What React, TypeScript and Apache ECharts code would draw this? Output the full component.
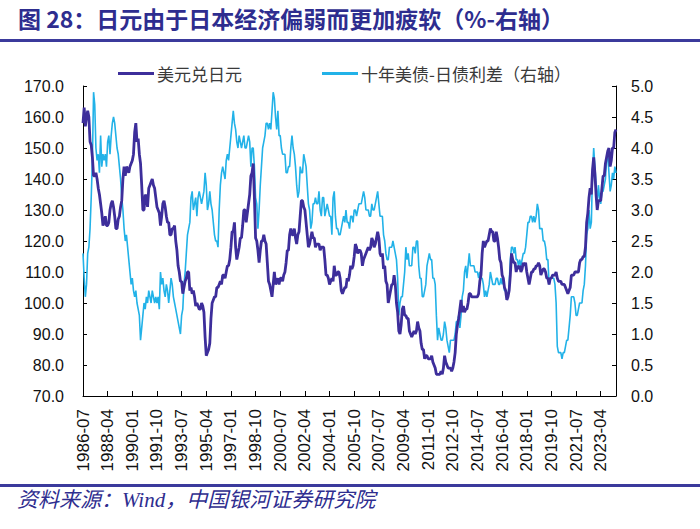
import React, { useEffect, useRef } from "react";
import * as echarts from "echarts";

// 美元兑日元, monthly, 1986-07 .. 2024-05
const usdJpy: number[] = [
  158, 163, 157, 160, 162, 160, // 1986 H2
  152, 151, 147, 141, 141, 142, 140, 137, 135, 132, 129, 125, // 1987
  126, 128, 125, 125, 126, 130, 132, 133, 131, 128, 124, 124, // 1988
  127, 128, 131, 133, 140, 144, 141, 144, 143, 142, 144, 145, // 1989
  146, 148, 155, 158, 152, 153, 148, 145, 138, 130, 130, 135, // 1990
  134, 131, 137, 138, 139, 140, 138, 137, 134, 131, 130, 129, // 1991
  125, 128, 132, 133, 131, 128, 126, 126, 122, 122, 124, 124, // 1992
  125, 120, 117, 112, 110, 107, 107, 103, 105, 107, 108, 110, // 1993
  110, 104, 105, 103, 104, 102, 99, 100, 99, 98, 98, 100, // 1994
  99, 97, 89, 83, 84, 85, 87, 95, 100, 101, 102, 102, // 1995
  105, 105, 106, 107, 106, 109, 109, 108, 110, 112, 112, 114, // 1996
  118, 123, 123, 126, 118, 114, 116, 118, 121, 121, 125, 130, // 1997
  130, 126, 129, 132, 135, 141, 142, 145, 134, 121, 120, 117, // 1998
  113, 117, 120, 120, 122, 120, 119, 113, 107, 106, 104, 102, // 1999
  106, 110, 106, 107, 108, 106, 108, 108, 107, 109, 110, 113, // 2000
  117, 117, 122, 124, 122, 122, 124, 121, 119, 122, 123, 128, // 2001
  133, 133, 131, 130, 126, 122, 118, 119, 121, 123, 121, 121, // 2002
  118, 119, 119, 119, 117, 118, 118, 118, 114, 109, 109, 108, // 2003
  106, 107, 108, 107, 112, 109, 109, 110, 110, 108, 104, 103, // 2004
  104, 105, 105, 108, 107, 109, 112, 111, 112, 115, 119, 118, // 2005
  116, 117, 117, 116, 112, 114, 115, 116, 117, 118, 117, 118, // 2006
  121, 120, 118, 119, 121, 123, 121, 116, 115, 116, 111, 112, // 2007
  107, 106, 100, 102, 104, 106, 106, 109, 106, 100, 97, 91, // 2008
  90, 93, 98, 99, 96, 96, 95, 95, 91, 90, 89, 90, // 2009
  91, 90, 91, 94, 92, 91, 87, 85, 85, 82, 83, 83, // 2010
  82, 82, 82, 83, 81, 80, 79, 77, 77, 77, 77, 78, // 2011
  77, 79, 83, 81, 80, 79, 79, 79, 78, 79, 81, 84, // 2012
  90, 93, 95, 98, 101, 97, 99, 97, 98, 98, 100, 103, // 2013
  103, 102, 102, 102, 102, 102, 102, 103, 107, 109, 116, 120, // 2014
  118, 119, 120, 120, 122, 124, 123, 123, 120, 120, 123, 121, // 2015
  118, 114, 113, 109, 108, 105, 104, 101, 102, 104, 109, 116, // 2016
  114, 113, 113, 110, 112, 111, 112, 110, 111, 113, 112, 113, // 2017
  110, 108, 106, 108, 110, 110, 111, 111, 112, 112, 113, 112, // 2018
  109, 110, 111, 111, 110, 108, 108, 106, 108, 108, 109, 109, // 2019
  109, 110, 108, 107, 107, 107, 106, 106, 106, 105, 104, 103, // 2020
  104, 105, 109, 109, 109, 110, 110, 110, 110, 113, 114, 114, // 2021
  115, 115, 118, 126, 129, 134, 137, 135, 143, 147, 142, 135, // 2022
  130, 133, 133, 133, 137, 141, 141, 145, 147, 149, 150, 144, // 2023
  146, 150, 150, 155, 156, // 2024
];

// 十年美债-日债利差 (%), monthly, 1986-07 .. 2024-05
const spread: number[] = [
  2.3, 1.9, 1.6, 1.8, 2.3, 2.4,
  2.7, 3.2, 3.8, 4.9, 4.7, 4.0, 3.8, 3.9, 3.6, 4.2, 3.7, 3.9,
  3.8, 3.9, 3.7, 4.1, 4.2, 3.9, 4.2, 4.4, 4.5, 4.4, 4.2, 4.0,
  3.9, 3.7, 3.5, 3.2, 3.0, 2.7, 2.5, 2.6, 2.4, 2.2, 2.0, 1.8,
  1.9, 1.7, 1.6, 1.7, 1.5, 1.4, 1.3, 0.9, 1.1, 1.3, 1.5, 1.4,
  1.6, 1.5, 1.7, 1.6, 1.5, 1.7, 1.6, 1.5, 1.6, 1.5, 1.6, 1.4,
  2.0, 1.8, 1.9, 1.7, 1.6, 1.8, 1.7, 1.5, 1.7, 1.9, 1.8, 1.6,
  1.5, 1.4, 1.3, 1.2, 1.1, 1.0, 1.3, 1.4, 1.8, 2.0, 2.3, 2.6,
  2.7, 2.8, 3.2, 3.3, 3.0, 3.1, 3.2, 2.9, 3.2, 3.3, 3.2, 3.1,
  3.2, 3.3, 3.6, 3.4, 3.0, 3.1, 3.3, 3.1, 3.0, 2.8, 2.6, 2.5,
  2.5, 2.4, 3.0, 3.4, 3.6, 3.7, 3.6, 3.5, 3.8, 3.9, 3.8, 4.0,
  4.2, 4.4, 4.6, 4.4, 4.3, 4.1, 4.0, 4.2, 4.1, 4.0, 4.1, 4.2,
  4.0, 4.0, 4.1, 4.2, 4.1, 3.7, 4.0, 4.0, 3.7, 3.2, 3.1, 2.7,
  3.0, 3.4, 3.7, 4.0, 4.1, 4.2, 4.4, 4.4, 4.3, 4.4, 4.3, 4.6,
  4.9, 4.8, 4.5, 4.3, 4.6, 4.2, 4.2, 4.0, 3.9, 3.9, 3.9, 3.6,
  3.6, 3.7, 3.7, 4.0, 4.2, 4.0, 3.9, 3.7, 3.4, 3.2, 3.3, 3.7,
  3.6, 3.6, 3.9, 3.8, 3.7, 3.4, 3.1, 3.0, 2.7, 2.8, 3.1, 3.1,
  3.2, 3.1, 3.1, 3.3, 3.0, 2.9, 3.2, 3.2, 2.9, 3.0, 3.1, 3.0,
  2.9, 2.9, 2.6, 3.2, 3.3, 2.9, 2.7, 2.7, 2.6, 2.6, 2.7, 2.8,
  2.9, 2.8, 3.0, 2.8, 2.8, 2.7, 2.9, 2.9, 2.8, 3.0, 3.0, 2.9,
  3.0, 3.1, 3.1, 3.1, 3.2, 3.3, 3.2, 3.0, 3.0, 3.0, 2.9, 2.9,
  3.1, 3.0, 3.0, 3.1, 3.2, 3.3, 3.1, 2.9, 2.9, 2.9, 2.6, 2.5,
  2.3, 2.2, 2.2, 2.4, 2.4, 2.4, 2.5, 2.4, 2.3, 2.2, 1.9, 1.3,
  1.5, 1.6, 1.6, 1.8, 2.0, 2.4, 2.2, 2.3, 2.1, 2.1, 2.1, 2.4,
  2.4, 2.3, 2.5, 2.5, 2.1, 1.9, 1.9, 1.6, 1.6, 1.7, 1.8, 2.1,
  2.2, 2.3, 2.2, 2.2, 1.9, 1.9, 1.8, 1.3, 0.9, 1.1, 1.0, 0.9,
  0.9, 1.0, 1.2, 1.1, 0.9, 0.8, 0.7, 0.9, 0.9, 0.9, 0.9, 1.0,
  1.2, 1.2, 1.3, 1.1, 1.3, 1.6, 1.7, 2.0, 2.1, 1.9, 2.1, 2.3,
  2.1, 2.1, 2.1, 2.1, 2.0, 2.0, 2.0, 1.9, 2.0, 1.9, 1.9, 1.8,
  1.6, 1.7, 1.6, 1.7, 1.8, 2.0, 1.9, 1.8, 1.8, 1.8, 1.9, 1.9,
  1.8, 1.8, 1.9, 1.8, 1.9, 1.7, 1.7, 1.6, 1.6, 1.8, 2.2, 2.4,
  2.4, 2.3, 2.4, 2.2, 2.2, 2.1, 2.2, 2.1, 2.2, 2.3, 2.3, 2.4,
  2.6, 2.8, 2.8, 2.9, 2.9, 2.8, 2.9, 2.8, 2.9, 3.1, 3.0, 2.7,
  2.7, 2.7, 2.5, 2.5, 2.4, 2.2, 2.2, 1.8, 1.9, 1.9, 1.9, 1.9,
  1.8, 1.5, 0.8, 0.7, 0.7, 0.7, 0.6, 0.7, 0.7, 0.8, 0.9, 0.9,
  1.1, 1.3, 1.6, 1.6, 1.6, 1.5, 1.3, 1.3, 1.4, 1.5, 1.5, 1.5,
  1.7, 1.8, 2.1, 2.6, 2.7, 3.0, 2.7, 2.8, 3.6, 4.0, 3.7, 3.4,
  3.1, 3.4, 3.2, 3.1, 3.3, 3.3, 3.4, 3.5, 3.8, 3.9, 3.6, 3.3,
  3.4, 3.6, 3.5, 3.7, 3.6,
];

const START_YEAR = 1986;
const START_MONTH = 7;
const months: string[] = [];
for (let i = 0; i < usdJpy.length; i++) {
  const t = START_MONTH - 1 + i;
  const y = START_YEAR + Math.floor(t / 12);
  const m = (t % 12) + 1;
  months.push(`${y}-${m < 10 ? "0" + m : m}`);
}

const seriesNames = ["美元兑日元", "十年美债-日债利差（右轴）"];
const titleText = "图 28：日元由于日本经济偏弱而更加疲软（%-右轴）";
const sourceText = "资料来源：Wind，中国银河证券研究院";

const PURPLE = "#3D2E9B";
const BLUE = "#22B2E8";
const NAVY = "#2E2D8F";

export default function App() {
  const ref = useRef<HTMLDivElement>(null);
  useEffect(() => {
    if (!ref.current) return;
    const chart = echarts.init(ref.current, null, { renderer: "svg" });
    const axisFont = { fontFamily: "Liberation Sans, Arial, sans-serif", fontSize: 16, color: "#111" };
    chart.setOption({
      animation: false,
      backgroundColor: "#fff",
      grid: { left: 83, top: 86, width: 533, height: 310, containLabel: false },
      legend: {
        left: 113,
        top: 60,
        itemWidth: 36,
        itemHeight: 3,
        itemGap: 80,
        icon: "rect",
        textStyle: { fontFamily: "Noto Sans CJK SC", fontSize: 17, color: "#3a3a3a", padding: [0, 0, 0, -2] },
        data: seriesNames,
      },
      xAxis: {
        type: "category",
        data: months,
        boundaryGap: false,
        axisLine: { lineStyle: { color: "#000", width: 1 } },
        axisTick: { inside: true, length: 5, interval: 20, lineStyle: { color: "#000" } },
        axisLabel: { ...axisFont, fontSize: 17, rotate: 90, interval: 20, margin: 13 },
        splitLine: { show: false },
      },
      yAxis: [
        {
          type: "value",
          min: 70,
          max: 170,
          interval: 10,
          axisLine: { show: true, lineStyle: { color: "#000", width: 1 } },
          axisTick: { show: true, inside: true, length: 4, lineStyle: { color: "#000" } },
          axisLabel: { ...axisFont, margin: 19, formatter: (v: number) => v.toFixed(1) },
          splitLine: { show: false },
        },
        {
          type: "value",
          min: 0,
          max: 5,
          interval: 0.5,
          position: "right",
          axisLine: { show: true, lineStyle: { color: "#000", width: 1 } },
          axisTick: { show: true, inside: true, length: 4, lineStyle: { color: "#000" } },
          axisLabel: { ...axisFont, margin: 15, formatter: (v: number) => v.toFixed(1) },
          splitLine: { show: false },
        },
      ],
      series: [
        {
          name: seriesNames[0],
          type: "line",
          yAxisIndex: 0,
          data: usdJpy,
          symbol: "none",
          z: 3,
          lineStyle: { color: PURPLE, width: 2.8 },
          itemStyle: { color: PURPLE },
        },
        {
          name: seriesNames[1],
          type: "line",
          yAxisIndex: 1,
          data: spread,
          symbol: "none",
          z: 2,
          lineStyle: { color: BLUE, width: 1.6 },
          itemStyle: { color: BLUE },
        },
      ],
      graphic: [
        {
          type: "text",
          left: 18,
          top: 6,
          style: {
            text: titleText,
            fill: NAVY,
            font: 'bold 23px "Noto Sans CJK SC", sans-serif',
          },
        },
        { type: "rect", shape: { x: 0, y: 39, width: 700, height: 3 }, style: { fill: "#3B3A9C" } },
        { type: "rect", shape: { x: 0, y: 484, width: 700, height: 3 }, style: { fill: "#3B3A9C" } },
        {
          type: "text",
          left: 17,
          top: 489,
          style: {
            text: sourceText,
            fill: NAVY,
            font: 'italic 21px "Liberation Serif", "Noto Sans CJK SC", serif',
          },
        },
      ],
    });
    return () => chart.dispose();
  }, []);
  return (
    <div
      ref={ref}
      style={{ position: "fixed", left: 0, top: 0, width: 700, height: 529, background: "#fff" }}
    />
  );
}
